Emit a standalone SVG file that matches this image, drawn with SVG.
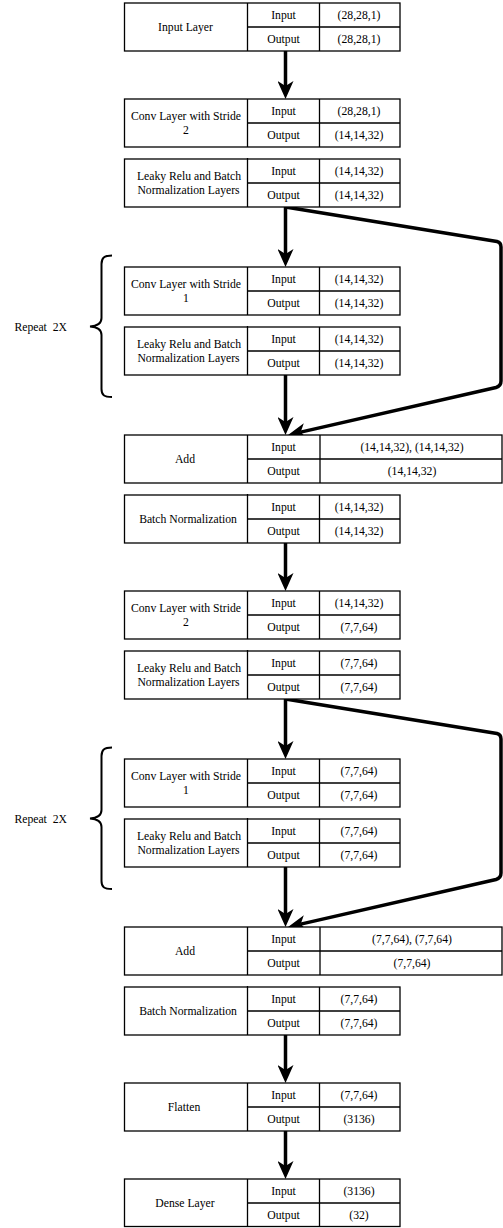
<svg xmlns="http://www.w3.org/2000/svg" width="503" height="1228" viewBox="0 0 503 1228">
  <style>
    .box { fill: #fff; stroke: #000; stroke-width: 1.3; }
    .grid { fill: none; stroke: #000; stroke-width: 1.3; }
    text { font-family: "Liberation Serif", "Times New Roman", serif; font-size: 11.7px; fill: #000; }
    .c { text-anchor: middle; }
    .flow { fill: none; stroke: #000; stroke-width: 3.5; stroke-linejoin: round; }
    .brace { fill: none; stroke: #000; stroke-width: 2; }
  </style>
  <defs>
    <marker id="head" viewBox="0 0 18 16" refX="5" refY="8" markerWidth="18" markerHeight="16" markerUnits="userSpaceOnUse" orient="auto">
      <path d="M0,0 L18,8 L0,16 L5,8 Z" fill="#000"/>
    </marker>
  </defs>

  <rect width="503" height="1228" fill="#fff"/>

  <!-- connectors -->
  <g id="connectors">
    <path class="flow" marker-end="url(#head)" d="M285.5,51 V86"/>
    <path class="flow" marker-end="url(#head)" d="M285.5,207 V254"/>
    <path class="flow" marker-end="url(#head)" d="M285.5,375 V422"/>
    <path class="flow" marker-end="url(#head)" d="M285.5,543 V578"/>
    <path class="flow" marker-end="url(#head)" d="M285.5,699 V746"/>
    <path class="flow" marker-end="url(#head)" d="M285.5,867 V914"/>
    <path class="flow" marker-end="url(#head)" d="M285.5,1035 V1070"/>
    <path class="flow" marker-end="url(#head)" d="M285.5,1131 V1166"/>
    <!-- residual skips -->
    <path class="flow" marker-end="url(#head)" d="M285.5,207 L497,241.5 Q501,242.5 501,247 L501,381 Q501,386 496,387.5 L300.7,432.1"/>
    <path class="flow" marker-end="url(#head)" d="M285.5,699 L497,733.5 Q501,734.5 501,739 L501,873 Q501,878 496,879.5 L300.7,924.1"/>
  </g>

  <!-- repeat braces -->
  <g id="repeat1">
    <path class="brace" d="M112,255.5 C104,255.5 101.5,258 101.5,264 L101.5,318 C101.5,323 98,326 90,326.5 C98,327 101.5,330 101.5,335 L101.5,389 C101.5,395 104,397 112,397"/>
    <text x="67" y="330.5" text-anchor="end" xml:space="preserve">Repeat  2X</text>
  </g>
  <g id="repeat2" transform="translate(0,492)">
    <path class="brace" d="M112,255.5 C104,255.5 101.5,258 101.5,264 L101.5,318 C101.5,323 98,326 90,326.5 C98,327 101.5,330 101.5,335 L101.5,389 C101.5,395 104,397 112,397"/>
    <text x="67" y="330.5" text-anchor="end" xml:space="preserve">Repeat  2X</text>
  </g>

  <!-- layers -->
  <g id="input-layer" transform="translate(0,3)">
    <rect class="box" x="124.5" y="0" width="275.5" height="48"/>
    <path class="grid" d="M247.5,0V48M247.5,24H400M319.5,0V48"/>
    <text class="c" x="185.5" y="28">Input Layer</text>
    <text class="c" x="283.5" y="16">Input</text><text class="c" x="359" y="16">(28,28,1)</text>
    <text class="c" x="283.5" y="40">Output</text><text class="c" x="359" y="40">(28,28,1)</text>
  </g>

  <g id="conv-s2-a" transform="translate(0,99)">
    <rect class="box" x="124.5" y="0" width="275.5" height="48"/>
    <path class="grid" d="M247.5,0V48M247.5,24H400M319.5,0V48"/>
    <text class="c" x="186" y="21">Conv Layer with Stride</text>
    <text class="c" x="186" y="35">2</text>
    <text class="c" x="283.5" y="16">Input</text><text class="c" x="359" y="16">(28,28,1)</text>
    <text class="c" x="283.5" y="40">Output</text><text class="c" x="359" y="40">(14,14,32)</text>
  </g>

  <g id="leaky-a" transform="translate(0,159)">
    <rect class="box" x="124.5" y="0" width="275.5" height="48"/>
    <path class="grid" d="M247.5,-1V48M247.5,24H400M319.5,0V48"/>
    <text class="c" x="189" y="21">Leaky Relu and Batch</text>
    <text class="c" x="188.5" y="35">Normalization Layers</text>
    <text class="c" x="283.5" y="16">Input</text><text class="c" x="359" y="16">(14,14,32)</text>
    <text class="c" x="283.5" y="40">Output</text><text class="c" x="359" y="40">(14,14,32)</text>
  </g>

  <g id="conv-s1-a" transform="translate(0,267)">
    <rect class="box" x="124.5" y="0" width="275.5" height="48"/>
    <path class="grid" d="M247.5,0V48M247.5,24H400M319.5,0V48"/>
    <text class="c" x="186" y="21">Conv Layer with Stride</text>
    <text class="c" x="186" y="35">1</text>
    <text class="c" x="283.5" y="16">Input</text><text class="c" x="359" y="16">(14,14,32)</text>
    <text class="c" x="283.5" y="40">Output</text><text class="c" x="359" y="40">(14,14,32)</text>
  </g>

  <g id="leaky-b" transform="translate(0,327)">
    <rect class="box" x="124.5" y="0" width="275.5" height="48"/>
    <path class="grid" d="M247.5,-1V48M247.5,24H400M319.5,0V48"/>
    <text class="c" x="189" y="21">Leaky Relu and Batch</text>
    <text class="c" x="188.5" y="35">Normalization Layers</text>
    <text class="c" x="283.5" y="16">Input</text><text class="c" x="359" y="16">(14,14,32)</text>
    <text class="c" x="283.5" y="40">Output</text><text class="c" x="359" y="40">(14,14,32)</text>
  </g>

  <g id="add-a" transform="translate(0,435)">
    <rect class="box" x="124.5" y="0" width="377.5" height="48"/>
    <path class="grid" d="M247.5,0V48M247.5,24H502M320,0V48"/>
    <text class="c" x="185" y="28">Add</text>
    <text class="c" x="283.5" y="16">Input</text><text class="c" x="412" y="16">(14,14,32), (14,14,32)</text>
    <text class="c" x="283.5" y="40">Output</text><text class="c" x="412" y="40">(14,14,32)</text>
  </g>

  <g id="batchnorm-a" transform="translate(0,495)">
    <rect class="box" x="124.5" y="0" width="275.5" height="48"/>
    <path class="grid" d="M247.5,-1V48M247.5,24H400M319.5,0V48"/>
    <text class="c" x="188" y="28">Batch Normalization</text>
    <text class="c" x="283.5" y="16">Input</text><text class="c" x="359" y="16">(14,14,32)</text>
    <text class="c" x="283.5" y="40">Output</text><text class="c" x="359" y="40">(14,14,32)</text>
  </g>

  <g id="conv-s2-b" transform="translate(0,591)">
    <rect class="box" x="124.5" y="0" width="275.5" height="48"/>
    <path class="grid" d="M247.5,0V48M247.5,24H400M319.5,0V48"/>
    <text class="c" x="186" y="21">Conv Layer with Stride</text>
    <text class="c" x="186" y="35">2</text>
    <text class="c" x="283.5" y="16">Input</text><text class="c" x="359" y="16">(14,14,32)</text>
    <text class="c" x="283.5" y="40">Output</text><text class="c" x="359" y="40">(7,7,64)</text>
  </g>

  <g id="leaky-c" transform="translate(0,651)">
    <rect class="box" x="124.5" y="0" width="275.5" height="48"/>
    <path class="grid" d="M247.5,-1V48M247.5,24H400M319.5,0V48"/>
    <text class="c" x="189" y="21">Leaky Relu and Batch</text>
    <text class="c" x="188.5" y="35">Normalization Layers</text>
    <text class="c" x="283.5" y="16">Input</text><text class="c" x="359" y="16">(7,7,64)</text>
    <text class="c" x="283.5" y="40">Output</text><text class="c" x="359" y="40">(7,7,64)</text>
  </g>

  <g id="conv-s1-b" transform="translate(0,759)">
    <rect class="box" x="124.5" y="0" width="275.5" height="48"/>
    <path class="grid" d="M247.5,0V48M247.5,24H400M319.5,0V48"/>
    <text class="c" x="186" y="21">Conv Layer with Stride</text>
    <text class="c" x="186" y="35">1</text>
    <text class="c" x="283.5" y="16">Input</text><text class="c" x="359" y="16">(7,7,64)</text>
    <text class="c" x="283.5" y="40">Output</text><text class="c" x="359" y="40">(7,7,64)</text>
  </g>

  <g id="leaky-d" transform="translate(0,819)">
    <rect class="box" x="124.5" y="0" width="275.5" height="48"/>
    <path class="grid" d="M247.5,-1V48M247.5,24H400M319.5,0V48"/>
    <text class="c" x="189" y="21">Leaky Relu and Batch</text>
    <text class="c" x="188.5" y="35">Normalization Layers</text>
    <text class="c" x="283.5" y="16">Input</text><text class="c" x="359" y="16">(7,7,64)</text>
    <text class="c" x="283.5" y="40">Output</text><text class="c" x="359" y="40">(7,7,64)</text>
  </g>

  <g id="add-b" transform="translate(0,927)">
    <rect class="box" x="124.5" y="0" width="377.5" height="48"/>
    <path class="grid" d="M247.5,0V48M247.5,24H502M320,0V48"/>
    <text class="c" x="185" y="28">Add</text>
    <text class="c" x="283.5" y="16">Input</text><text class="c" x="412" y="16">(7,7,64), (7,7,64)</text>
    <text class="c" x="283.5" y="40">Output</text><text class="c" x="412" y="40">(7,7,64)</text>
  </g>

  <g id="batchnorm-b" transform="translate(0,987)">
    <rect class="box" x="124.5" y="0" width="275.5" height="48"/>
    <path class="grid" d="M247.5,-1V48M247.5,24H400M319.5,0V48"/>
    <text class="c" x="188" y="28">Batch Normalization</text>
    <text class="c" x="283.5" y="16">Input</text><text class="c" x="359" y="16">(7,7,64)</text>
    <text class="c" x="283.5" y="40">Output</text><text class="c" x="359" y="40">(7,7,64)</text>
  </g>

  <g id="flatten" transform="translate(0,1083)">
    <rect class="box" x="124.5" y="0" width="275.5" height="48"/>
    <path class="grid" d="M247.5,0V48M247.5,24H400M319.5,0V48"/>
    <text class="c" x="184" y="28">Flatten</text>
    <text class="c" x="283.5" y="16">Input</text><text class="c" x="359" y="16">(7,7,64)</text>
    <text class="c" x="283.5" y="40">Output</text><text class="c" x="359" y="40">(3136)</text>
  </g>

  <g id="dense-layer" transform="translate(0,1179)">
    <rect class="box" x="124.5" y="0" width="275.5" height="47.5"/>
    <path class="grid" d="M247.5,0V47.5M247.5,24H400M319.5,0V47.5"/>
    <text class="c" x="185" y="28">Dense Layer</text>
    <text class="c" x="283.5" y="16">Input</text><text class="c" x="359" y="16">(3136)</text>
    <text class="c" x="283.5" y="40">Output</text><text class="c" x="359" y="40">(32)</text>
  </g>
</svg>
